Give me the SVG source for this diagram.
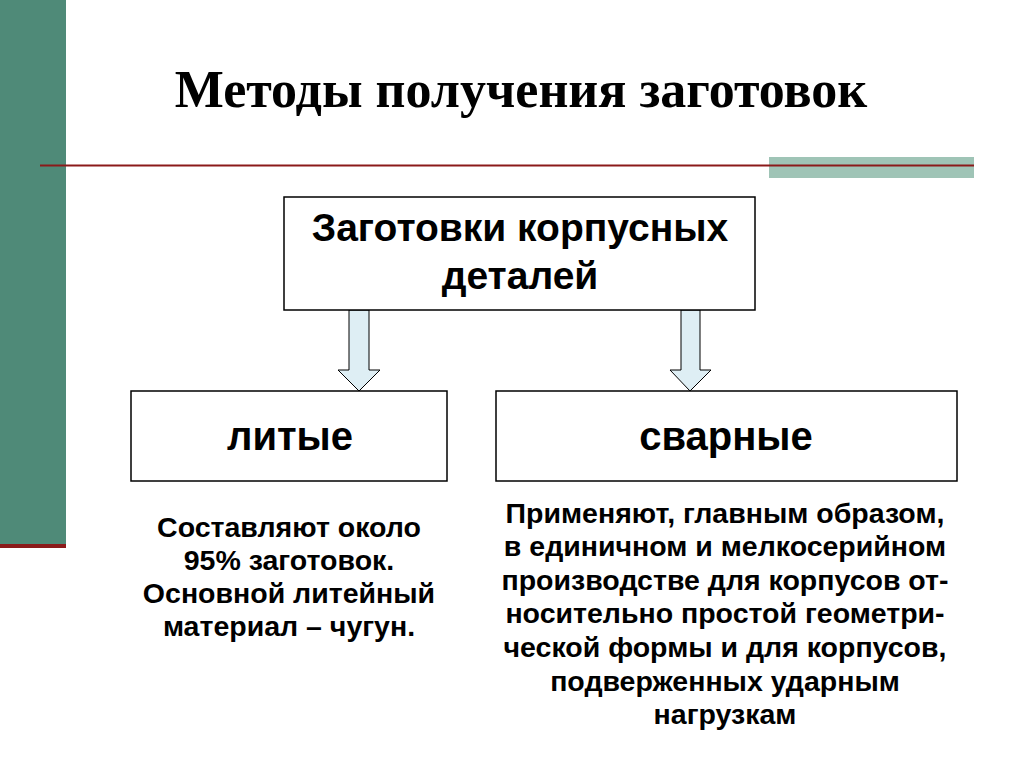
<svg xmlns="http://www.w3.org/2000/svg" width="1024" height="767" viewBox="0 0 1024 767">
<style>
.box{fill:#fff;stroke:#000;stroke-width:1.5}
.arr{fill:#deeef4;stroke:#000;stroke-width:1}
.t{font-family:"Liberation Sans",Arial,sans-serif;font-weight:bold;text-anchor:middle;fill:#000}
</style>
<rect x="0" y="0" width="1024" height="767" fill="#fff"/>
<rect x="0" y="0" width="66" height="546" fill="#4f8a78"/>
<rect x="0" y="544" width="66" height="4" fill="#8b1a1a"/>
<rect x="769" y="157" width="205" height="21" fill="#9fc4b6"/>
<line x1="40" y1="165.5" x2="974" y2="165.5" stroke="#8b1a1a" stroke-width="2"/>
<text x="521" y="107" font-family="'Liberation Serif','Times New Roman',serif" font-weight="bold" font-size="52" text-anchor="middle">Методы получения заготовок</text>
<g id="connectors">
<polygon class="arr" points="349,310 369,310 369,370 380,370 359,391 338,370 349,370"/>
<polygon class="arr" points="681,310 700,310 700,370 711,370 690,391 670,370 681,370"/>
</g>
<g id="node-top">
<rect class="box" x="284" y="197" width="471" height="113"/>
<text class="t" x="520" y="241" font-size="39">Заготовки корпусных</text>
<text class="t" x="520" y="289" font-size="39">деталей</text>
</g>
<g id="node-lit">
<rect class="box" x="131" y="391" width="316" height="90"/>
<text class="t" x="290" y="450" font-size="40">литые</text>
</g>
<g id="node-svar">
<rect class="box" x="496" y="391" width="461" height="90"/>
<text class="t" x="726" y="450" font-size="40">сварные</text>
</g>
<g id="text-lit" class="t" font-size="28.5">
<text x="289" y="537">Составляют около</text>
<text x="289" y="570">95% заготовок.</text>
<text x="289" y="603">Основной литейный</text>
<text x="289" y="636">материал – чугун.</text>
</g>
<g id="text-svar" class="t" font-size="28.5">
<text x="725" y="523">Применяют, главным образом,</text>
<text x="725" y="556">в единичном и мелкосерийном</text>
<text x="725" y="590">производстве для корпусов от-</text>
<text x="725" y="623">носительно простой геометри-</text>
<text x="725" y="657">ческой формы и для корпусов,</text>
<text x="725" y="691">подверженных ударным</text>
<text x="725" y="724">нагрузкам</text>
</g>
</svg>
